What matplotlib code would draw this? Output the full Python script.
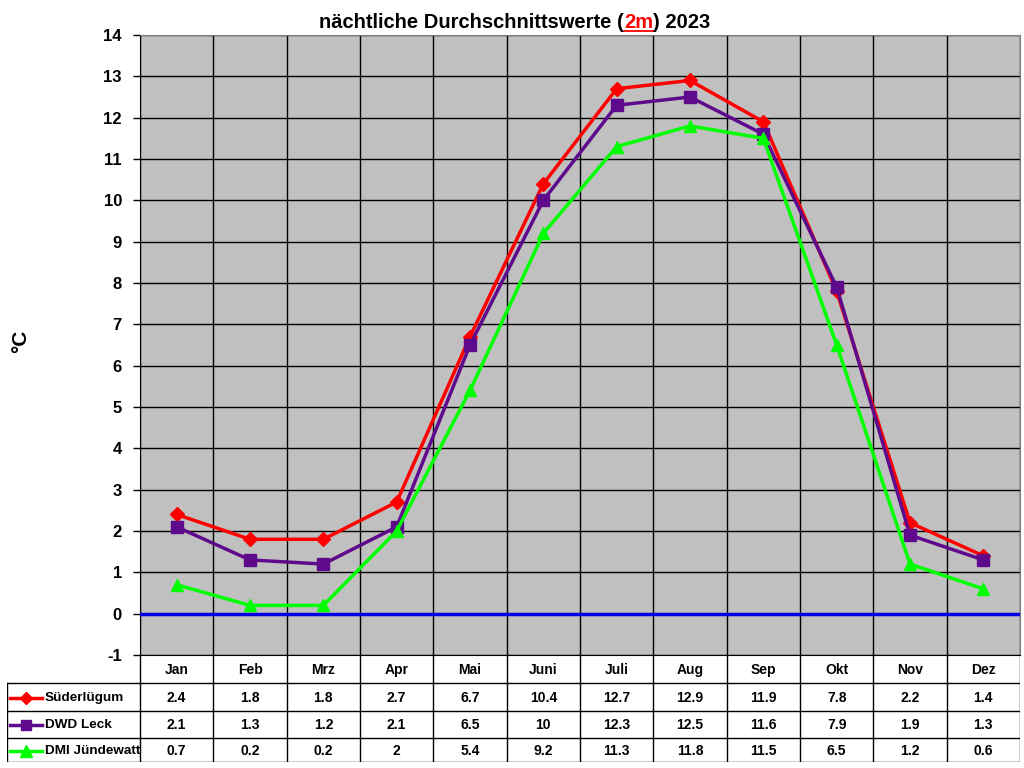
import numpy as np
import matplotlib
matplotlib.use("Agg")
import matplotlib.pyplot as plt

plt.rcParams['font.family'] = ['Liberation Sans', 'DejaVu Sans']
plt.rcParams['font.weight'] = 'bold'
plt.rcParams['axes.unicode_minus'] = False

months = ["Jan", "Feb", "Mrz", "Apr", "Mai", "Juni", "Juli", "Aug", "Sep", "Okt", "Nov", "Dez"]
suederluegum = [2.4, 1.8, 1.8, 2.7, 6.7, 10.4, 12.7, 12.9, 11.9, 7.8, 2.2, 1.4]
dwd_leck = [2.1, 1.3, 1.2, 2.1, 6.5, 10, 12.3, 12.5, 11.6, 7.9, 1.9, 1.3]
dmi_juendewatt = [0.7, 0.2, 0.2, 2, 5.4, 9.2, 11.3, 11.8, 11.5, 6.5, 1.2, 0.6]

series = [
    ("Süderlügum", suederluegum, "#FF0000", "D", 7),
    ("DWD Leck", dwd_leck, "#5F0A8C", "s", 8),
    ("DMI Jündewatt", dmi_juendewatt, "#00FF00", "^", 9),
]

W, H = 1024, 768
def box(l, t, r, b):
    return [l / W, 1 - b / H, (r - l) / W, (b - t) / H]

fig = plt.figure(figsize=(10.24, 7.68), dpi=100)
ax = fig.add_axes(box(140, 35, 1020, 655))
x = np.arange(len(months))
ax.set_facecolor("#C0C0C0")
ax.set_xlim(-0.5, 11.5)
ax.set_ylim(-1, 14)
ax.set_yticks(range(-1, 15))
ax.set_xticks(np.arange(-0.5, 12, 1))
ax.grid(color="black", lw=1)
ax.set_axisbelow(True)
ax.tick_params(axis="x", length=0, labelbottom=False)
ax.tick_params(axis="y", length=5, width=1, labelsize=12, pad=8)
for s in ["top", "right"]:
    ax.spines[s].set_color("#808080")
ax.spines["left"].set_color("black")
ax.spines["bottom"].set_color("black")
ax.axhline(0, color="#0000E0", lw=2.5, zorder=3)
for name, vals, col, mk, ms in series:
    ax.plot(x, vals, color=col, lw=2.5, marker=mk, ms=ms, zorder=4)
fig.text(21 / W, 1 - 341 / H, "°C", fontsize=15, rotation=90, ha="center", va="center")

# data table (vertical axis in figure pixels, top down)
tab = fig.add_axes(box(7, 655, 1020, 762))
u = 880 / 12
left = -0.5 - 133 / u
tab.set_xlim(left, 11.5)
tab.set_ylim(762, 655)
tab.axis("off")
rows = [683, 711, 738, 762]
for k in range(13):
    tab.plot([k - 0.5, k - 0.5], [655, 762], color="black", lw=1)
tab.plot([left, left], [683, 762], color="black", lw=1)
for r in rows:
    tab.plot([left, 11.5], [r, r], color="black", lw=1)
for i, m in enumerate(months):
    tab.text(i, 670, m, ha="center", va="center", fontsize=10)
centers = [698, 725, 751]
for j, (name, vals, col, mk, ms) in enumerate(series):
    yy = centers[j]
    tab.plot([left + 3 / u, left + 35 / u], [yy, yy], color=col, lw=2.5)
    tab.plot([left + 19 / u], [yy], color=col, marker=mk, ms=ms - 1)
    tab.text(left + 38 / u, yy, name, ha="left", va="center", fontsize=9.7)
    for i, v in enumerate(vals):
        tab.text(i, yy, f"{v:g}", ha="center", va="center", fontsize=10)

# title with coloured part
parts = [("nächtliche Durchschnittswerte (", "black"), ("2m", "#FF0000"), (") 2023", "black")]
fig.canvas.draw()
r = fig.canvas.get_renderer()
texts = []
widths = []
for s, c in parts:
    t = fig.text(0, 0, s, fontsize=14.5, color=c, va="baseline", ha="left")
    widths.append(t.get_window_extent(r).width)
    texts.append(t)
total = sum(widths)
xpos = 515 - total / 2
ybase = 1 - 28 / H
for t, w in zip(texts, widths):
    t.set_position((xpos / W, ybase))
    xpos += w
x0 = (515 - total / 2 + widths[0]) / W
x1 = x0 + widths[1] / W
fig.add_artist(plt.Line2D([x0, x1], [ybase - 2.5 / H, ybase - 2.5 / H], color="#FF0000", lw=1.3))

fig.savefig("out.png", dpi=100)
